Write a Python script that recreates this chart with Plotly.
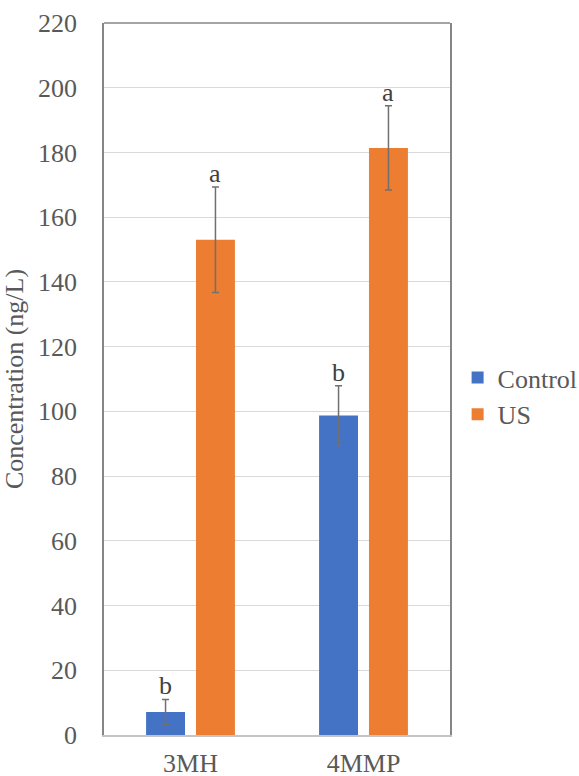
import plotly.graph_objects as go

# Data
categories = ["3MH", "4MMP"]
control_values = [7.1, 98.7]
control_errors = [3.9, 9.2]
us_values = [153.0, 181.4]
us_errors = [16.3, 13.0]
control_letters = ["b", "b"]
us_letters = ["a", "a"]
y_ticks = [0, 20, 40, 60, 80, 100, 120, 140, 160, 180, 200, 220]

FONT = '"Liberation Serif", "Times New Roman", serif'
TEXT_GRAY = "#595959"
ERR_GRAY = "#707070"
FRAME_GRAY = "#868686"
BARGAP = 0.423

fig = go.Figure()
fig.add_trace(go.Bar(
    name="Control", x=categories, y=control_values,
    marker=dict(color="#4472C4", line=dict(width=0)),
    error_y=dict(type="data", array=control_errors, visible=True,
                 color=ERR_GRAY, thickness=1.5, width=3.5),
))
fig.add_trace(go.Bar(
    name="US", x=categories, y=us_values,
    marker=dict(color="#ED7D31", line=dict(width=0)),
    error_y=dict(type="data", array=us_errors, visible=True,
                 color=ERR_GRAY, thickness=1.5, width=3.5),
))

# Significance letters above each error bar (bar centres sit at +/- a quarter group width)
offset = (1 - BARGAP) / 4
annotations = []
for i, cat in enumerate(categories):
    for vals, errs, letters, shift in (
        (control_values, control_errors, control_letters, -offset),
        (us_values, us_errors, us_letters, offset),
    ):
        annotations.append(dict(
            x=i + shift, xref="x", y=vals[i] + errs[i], yref="y",
            text=letters[i], showarrow=False, yanchor="bottom",
            yshift=-3, font=dict(family=FONT, size=26, color="#404040"),
        ))

fig.update_layout(
    width=579, height=776,
    margin=dict(l=103.5, r=129, t=23, b=40.7, autoexpand=False),
    paper_bgcolor="white", plot_bgcolor="white",
    barmode="group", bargap=BARGAP, bargroupgap=0.22,
    font=dict(family=FONT, size=26, color=TEXT_GRAY),
    showlegend=True,
    legend=dict(x=1.022, xanchor="left", y=0.476, yanchor="middle",
                font=dict(family=FONT, size=26, color=TEXT_GRAY),
                itemwidth=30, tracegroupgap=0, bgcolor="rgba(0,0,0,0)"),
    annotations=annotations,
    # top edge of the plot frame
    shapes=[dict(type="line", xref="paper", yref="paper", x0=0, x1=1, y0=1, y1=1,
                 line=dict(color=FRAME_GRAY, width=1.5), layer="above")],
)
fig.update_xaxes(
    type="category", showline=True, linecolor="#c4c4c4", linewidth=2,
    mirror=False, ticks="", showgrid=False, ticklabelstandoff=4,
    automargin=False,
    tickfont=dict(family=FONT, size=26, color=TEXT_GRAY),
)
fig.update_yaxes(
    range=[0, 220], tickvals=y_ticks, showgrid=True, gridcolor="#d9d9d9",
    gridwidth=1, showline=True, linecolor=FRAME_GRAY, linewidth=1.5, mirror=True,
    zeroline=False, ticks="", ticklabelstandoff=20,
    tickfont=dict(family=FONT, size=26, color=TEXT_GRAY),
    title=dict(text="Concentration (ng/L)", standoff=8,
               font=dict(family=FONT, size=26, color=TEXT_GRAY)),
)

fig.write_html("out.html")
